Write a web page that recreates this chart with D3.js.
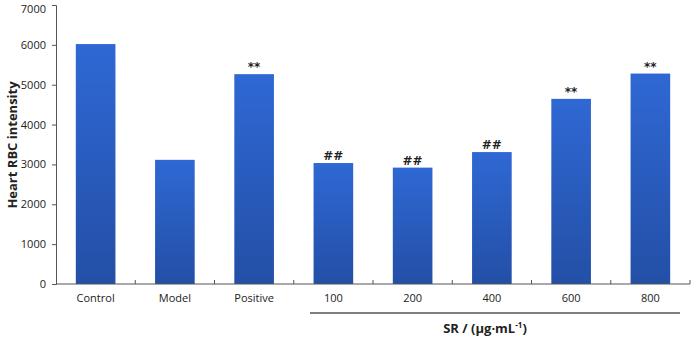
<!DOCTYPE html>
<html><head><meta charset="utf-8">
<script src="https://cdn.jsdelivr.net/npm/d3@7"></script>
<style>body{margin:0;background:#fff}svg{display:block}</style>
</head><body>
<script>
const categories = ["Control","Model","Positive","100","200","400","600","800"];
const values = [6020, 3115, 5265, 3035, 2920, 3310, 4645, 5280];
const marks = ["", "", "**", "##", "##", "##", "**", "**"];
const yTicks = [0,1000,2000,3000,4000,5000,6000,7000];

const W=695,H=340;
const svg=d3.select("body").append("svg").attr("width",W).attr("height",H);
const x=d3.scaleBand().domain(categories).range([56,690]).paddingInner(0.5).paddingOuter(0.25);
const y=d3.scaleLinear().domain([0,7000]).range([284,5]);

const defs=svg.append("defs");
const g=defs.append("linearGradient").attr("id","bg").attr("x1",0).attr("y1",0).attr("x2",0).attr("y2",1);
g.append("stop").attr("offset","0%").attr("stop-color","#2f68d4");
g.append("stop").attr("offset","100%").attr("stop-color","#234fa6");

svg.selectAll("rect.bar").data(categories).join("rect").attr("class","bar")
  .attr("x",d=>x(d)).attr("width",x.bandwidth())
  .attr("y",(d,i)=>y(values[i])).attr("height",(d,i)=>y(0)-y(values[i]))
  .attr("fill","url(#bg)");

// y axis
const ya=svg.append("g").attr("transform","translate(56,0)")
  .call(d3.axisLeft(y).tickValues(yTicks).tickSize(4).tickFormat(d3.format("d")));
ya.select(".domain").attr("stroke","#555");
ya.selectAll(".tick line").attr("stroke","#555");
ya.selectAll("text").attr("font-family","Open Sans, Arial, sans-serif").attr("font-size",11).attr("fill","#222").attr("dx",-3);
ya.selectAll(".tick").filter(d=>d===7000).select("text").attr("dy","0.32em").attr("y",4);

// x axis
const xb=d3.scaleLinear().domain([0,categories.length]).range([56,690]);
const xa=svg.append("g").attr("transform","translate(0,284)");
xa.append("line").attr("x1",56).attr("x2",690).attr("stroke","#555");
xa.selectAll("line.t").data(d3.range(1,categories.length+1)).join("line").attr("class","t")
  .attr("x1",d=>xb(d)).attr("x2",d=>xb(d)).attr("y1",0).attr("y2",-4).attr("stroke","#555");
svg.selectAll("text.xl").data(categories).join("text").attr("class","xl")
  .attr("x",d=>x(d)+x.bandwidth()/2).attr("y",302).attr("text-anchor","middle")
  .attr("font-family","Open Sans, Arial, sans-serif").attr("font-size",11).attr("fill","#222").text(d=>d);

// significance marks
svg.selectAll("text.mk").data(categories).join("text").attr("class","mk")
  .attr("x",d=>x(d)+x.bandwidth()/2).attr("y",(d,i)=>y(values[i])-3).attr("text-anchor","middle")
  .attr("font-family","DejaVu Sans, Arial, sans-serif").attr("font-size",12).attr("font-weight","bold").attr("fill","#222")
  .text((d,i)=>marks[i]);

// SR group line
svg.append("line").attr("x1",310).attr("x2",680).attr("y1",313).attr("y2",313).attr("stroke","#555").attr("stroke-width",1.5);
const t=svg.append("text").attr("x",485).attr("y",333).attr("text-anchor","middle")
  .attr("font-family","Open Sans, Arial, sans-serif").attr("font-size",13).attr("font-weight","bold").attr("fill","#222");
t.append("tspan").text("SR / (μg·mL");
t.append("tspan").attr("font-size",8).attr("dy",-5).text("-1");
t.append("tspan").attr("dy",5).text(")");

svg.append("text").attr("transform","translate(17,145) rotate(-90)").attr("text-anchor","middle")
  .attr("font-family","Open Sans, Arial, sans-serif").attr("font-size",13).attr("font-weight","bold").attr("fill","#222")
  .text("Heart RBC intensity");
</script>
</body></html>
